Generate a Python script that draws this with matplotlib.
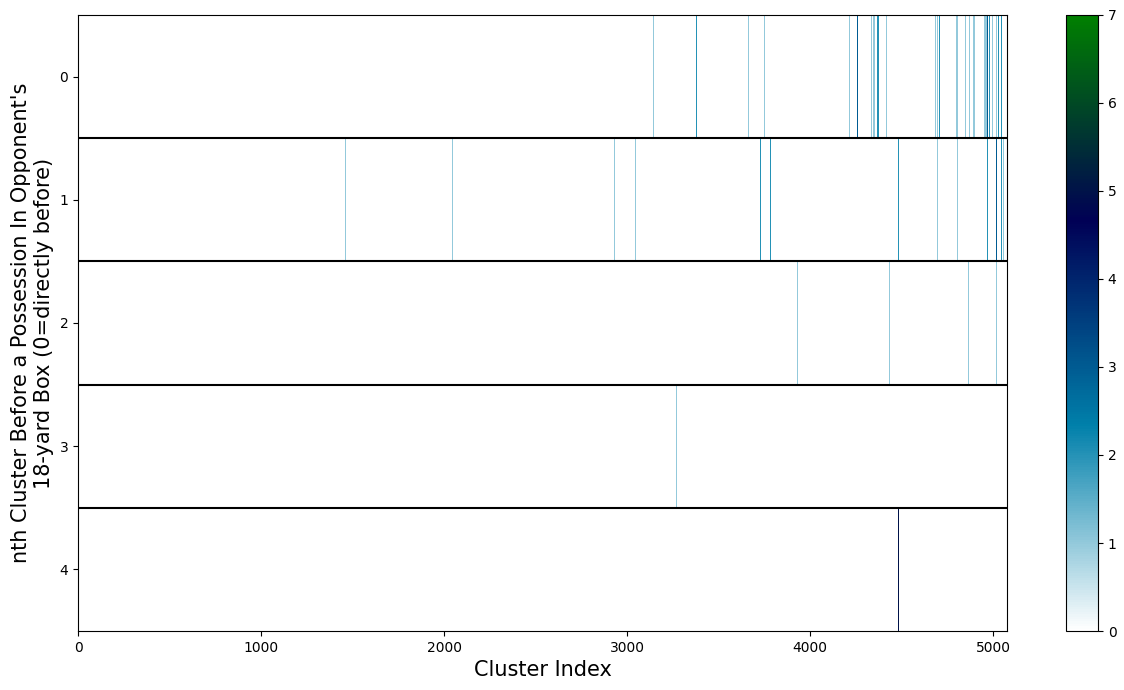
import numpy as np
import matplotlib
matplotlib.use("Agg")
import matplotlib.pyplot as plt
from matplotlib.colors import Normalize

N_CLUSTERS = 5077
ROWS = [0, 1, 2, 3, 4]

# cluster index -> count, one pair of lists per row (0 = directly before)
row0_idx = [3144, 3379, 3663, 3750, 4215, 4259, 4336, 4347, 4369, 4418,
            4685, 4694, 4705, 4800, 4805, 4849, 4871, 4889, 4894, 4898,
            4954, 4958, 4962, 4969, 4978, 4995, 5015, 5029, 5044]
row0_val = [1, 2, 1, 1, 1, 3, 1, 1, 2, 1,
            1, 1, 2, 1, 1, 1, 1, 1, 2, 1,
            1, 1, 1, 3, 2, 1, 1, 2, 2]
row1_idx = [1461, 2046, 2931, 3046, 3728, 3783, 4483, 4696, 4805,
            4969, 5018, 5044, 5057]
row1_val = [1, 1, 1, 1, 2, 2, 2, 1, 1,
            2, 3, 2, 1]
row2_idx = [3931, 4434, 4865, 5018]
row2_val = [1, 1, 1, 1]
row3_idx = [3269]
row3_val = [1]
row4_idx = [4483]
row4_val = [5]

all_idx = [row0_idx, row1_idx, row2_idx, row3_idx, row4_idx]
all_val = [row0_val, row1_val, row2_val, row3_val, row4_val]

mat = np.zeros((len(ROWS), N_CLUSTERS))
for r, (idx, val) in enumerate(zip(all_idx, all_val)):
    mat[r, idx] = val

cmap = plt.get_cmap("ocean_r")
norm = Normalize(vmin=0, vmax=7)

fig = plt.figure(figsize=(11.24, 6.9), dpi=100)
ax = fig.add_axes([0.0694, 0.0855, 0.8265, 0.8928])
cax = fig.add_axes([0.9484, 0.0855, 0.0285, 0.8928])

im = ax.imshow(mat, aspect="auto", cmap=cmap, norm=norm, interpolation="nearest")

# single columns get lost when 5000 cells squeeze into ~930 px, so redraw them as thin lines
for r, (idx, val) in enumerate(zip(all_idx, all_val)):
    ax.vlines(idx, r - 0.5, r + 0.5, colors=cmap(norm(np.array(val))),
              linewidth=0.6, antialiased=False)

for y in np.arange(0.5, len(ROWS) - 1, 1.0):
    ax.axhline(y, color="black", linewidth=1.5)

ax.set_xlim(-0.5, N_CLUSTERS - 0.5)
ax.set_ylim(len(ROWS) - 0.5, -0.5)
ax.set_yticks(ROWS)
ax.set_xlabel("Cluster Index", fontsize=15)
ax.set_ylabel("nth Cluster Before a Possession In Opponent's\n18-yard Box (0=directly before)",
              fontsize=15)

fig.colorbar(im, cax=cax)

fig.savefig("out.png", dpi=100)
